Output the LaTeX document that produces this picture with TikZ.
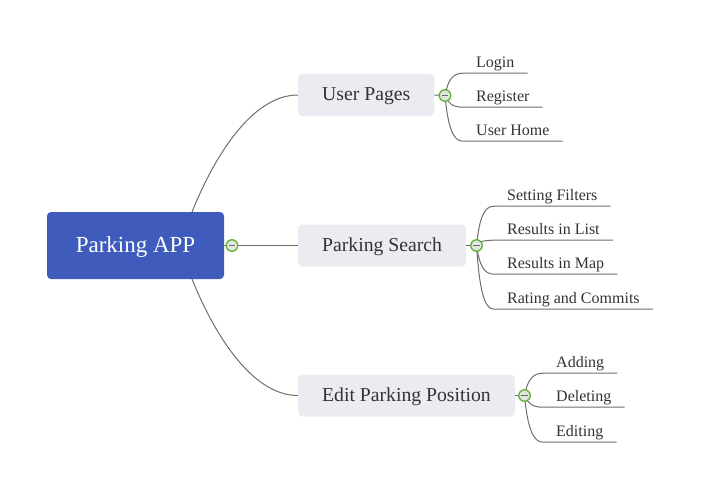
\documentclass[tikz,border=0pt]{standalone}
\usepackage{fontspec}
\setmainfont{Liberation Serif}
\definecolor{rootblue}{RGB}{63,92,189}
\definecolor{boxgray}{RGB}{235,235,242}
\definecolor{linec}{RGB}{110,110,110}
\definecolor{textc}{RGB}{51,51,51}
\definecolor{togglegreen}{RGB}{91,176,47}
\definecolor{togglefill}{RGB}{226,230,222}
\definecolor{minusc}{RGB}{100,110,100}
\begin{document}
\begin{tikzpicture}[x=1pt,y=-1pt,
  conn/.style={draw=linec, line width=1pt},
  rootbox/.style={fill=rootblue, rounded corners=4pt, text=white, font=\fontsize{23}{27}\selectfont, minimum width=177pt, minimum height=67pt, inner sep=0pt, text height=16pt, text depth=2.4pt},
  topic/.style={fill=boxgray, rounded corners=4pt, text=textc, font=\fontsize{19.7}{23}\selectfont, minimum height=42pt, inner xsep=24pt, inner ysep=0pt, anchor=west, text height=14.3pt, text depth=2.7pt},
  leaf/.style={text=textc, font=\fontsize{16}{19}\selectfont, inner xsep=13pt, inner ysep=0pt, text depth=6pt, anchor=base west},
  toggle/.style={circle, draw=togglegreen, line width=1.3pt, fill=togglefill, minimum size=11.5pt, inner sep=0pt,
    path picture={\draw[line width=1.3pt, draw=minusc] ([xshift=-3.2pt]path picture bounding box.center) -- ([xshift=3.2pt]path picture bounding box.center);}}]
\useasboundingbox (0,0) rectangle (703,491);
% main nodes
\node[rootbox] (root) at (135.5,245.5) {Parking APP};
\node[topic] (up) at (298,95) {User Pages};
\node[topic] (ps) at (298,245.5) {Parking Search};
\node[topic] (ep) at (298,395.5) {Edit Parking Position};
% toggles positions
\coordinate (t0) at (232,245.5);
\coordinate (t1) at (445,95.5);
\coordinate (t2) at (476.5,245.5);
\coordinate (t3) at (524.5,395.5);
\coordinate (rt) at (192,212);
\coordinate (rb) at (192,279);
% leaves
\node[leaf] (l1) at (463,67) {Login};
\node[leaf] (l2) at (463,101) {Register};
\node[leaf] (l3) at (463,135) {User Home};
\node[leaf] (s1) at (494,200) {Setting Filters};
\node[leaf] (s2) at (494,234) {Results in List};
\node[leaf] (s3) at (494,268) {Results in Map};
\node[leaf] (s4) at (494,303) {Rating and Commits};
\node[leaf] (e1) at (543,367) {Adding};
\node[leaf] (e2) at (543,401) {Deleting};
\node[leaf] (e3) at (543,436) {Editing};
% connectors
\draw[conn] (rt) .. controls +(20,-50) and +(-48,0) .. (up.west);
\draw[conn] (rb) .. controls +(20,50) and +(-48,0) .. (ep.west);
\draw[conn] (root.east) -- (t0) -- (ps.west);
\draw[conn] (up.east) -- (t1);
\draw[conn] (ps.east) -- (t2);
\draw[conn] (ep.east) -- (t3);
\draw[conn] (t1) .. controls +(3,-16) and +(-10,0) .. (l1.south west) -- (l1.south east);
\draw[conn] (t1) .. controls +(3,8) and +(-10,0) .. (l2.south west) -- (l2.south east);
\draw[conn] (t1) .. controls +(3,32) and +(-10,0) .. (l3.south west) -- (l3.south east);
\draw[conn] (t2) .. controls +(3,-28) and +(-10,0) .. (s1.south west) -- (s1.south east);
\draw[conn] (t2) .. controls +(3,-4) and +(-10,0) .. (s2.south west) -- (s2.south east);
\draw[conn] (t2) .. controls +(3,20) and +(-10,0) .. (s3.south west) -- (s3.south east);
\draw[conn] (t2) .. controls +(3,44) and +(-10,0) .. (s4.south west) -- (s4.south east);
\draw[conn] (t3) .. controls +(3,-16) and +(-10,0) .. (e1.south west) -- (e1.south east);
\draw[conn] (t3) .. controls +(3,8) and +(-10,0) .. (e2.south west) -- (e2.south east);
\draw[conn] (t3) .. controls +(3,32) and +(-10,0) .. (e3.south west) -- (e3.south east);
% toggles on top
\node[toggle] (g0) at (t0) {};
\node[toggle] (g1) at (t1) {};
\node[toggle] (g2) at (t2) {};
\node[toggle] (g3) at (t3) {};
\end{tikzpicture}
\end{document}
